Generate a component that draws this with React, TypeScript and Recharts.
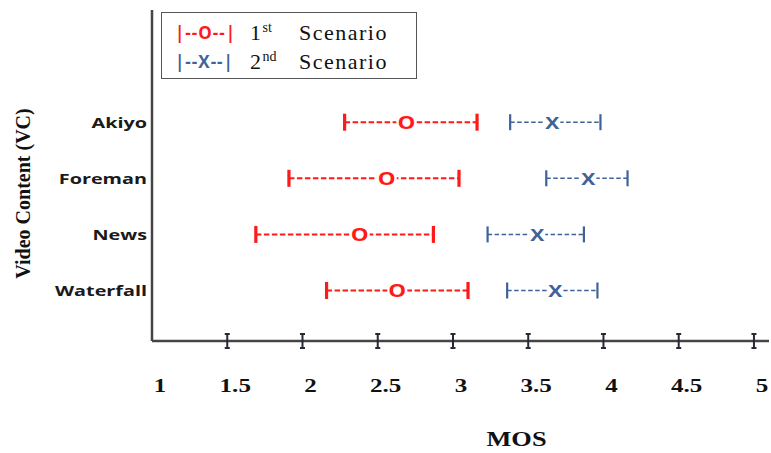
import React from 'react';
import { ScatterChart, Scatter, XAxis, YAxis } from 'recharts';

// Video contents, top to bottom
const categories = ['Akiyo', 'Foreman', 'News', 'Waterfall'];

// 1st scenario: MOS interval (low / mean / high)
const s1Low = [2.28, 1.91, 1.69, 2.16];
const s1Mean = [2.69, 2.56, 2.38, 2.63];
const s1High = [3.16, 3.04, 2.87, 3.1];

// 2nd scenario
const s2Low = [3.38, 3.62, 3.23, 3.36];
const s2Mean = [3.66, 3.9, 3.56, 3.68];
const s2High = [3.98, 4.16, 3.87, 3.96];

const xTicks = [1, 1.5, 2, 2.5, 3, 3.5, 4, 4.5, 5];

const RED = '#ff1a1a';
const BLUE = '#3f6396';
// the source picture is stretched sideways, so text is widened a bit
const STRETCH = 1.32;

const rowY = (i: number) => categories.length - i;

const s1Ends = categories.map((_, i) => [
  { x: s1Low[i], y: rowY(i) },
  { x: s1High[i], y: rowY(i) },
]);
const s2Ends = categories.map((_, i) => [
  { x: s2Low[i], y: rowY(i) },
  { x: s2High[i], y: rowY(i) },
]);
const s1Means = categories.map((_, i) => ({ x: s1Mean[i], y: rowY(i) }));
const s2Means = categories.map((_, i) => ({ x: s2Mean[i], y: rowY(i) }));

const EndBar = (color: string, w: number, h: number) => (props: any) => {
  const { cx, cy } = props;
  return <rect x={cx - w / 2} y={cy - h / 2} width={w} height={h} fill={color} />;
};

const MeanMark = (color: string, letter: string, size: number, pad: number) => (props: any) => {
  const { cx, cy } = props;
  return (
    <g>
      <rect x={cx - pad} y={cy - 8} width={pad * 2} height={16} fill="#fff" />
      <g transform={`translate(${cx} ${cy}) scale(${STRETCH} 1)`}>
        <text
          x={0}
          y={0}
          textAnchor="middle"
          dominantBaseline="central"
          fontFamily="'Open Sans', Arial, sans-serif"
          fontWeight={700}
          fontSize={size}
          fill={color}
        >
          {letter}
        </text>
      </g>
    </g>
  );
};

const XTick = (props: any) => {
  const { x, y, payload } = props;
  return (
    <g>
      {payload.value !== 1 && (
        <g stroke="#262a36" strokeWidth={2}>
          <line x1={x} y1={y - 7} x2={x} y2={y + 7} />
          <line x1={x - 2.5} y1={y - 7} x2={x + 2.5} y2={y - 7} />
          <line x1={x - 2.5} y1={y + 7} x2={x + 2.5} y2={y + 7} />
        </g>
      )}
      <g transform={`translate(${x + 8} ${y + 51}) scale(${STRETCH} 1)`}>
        <text
          x={0}
          y={0}
          textAnchor="middle"
          fontFamily="'Liberation Serif', 'Times New Roman', serif"
          fontWeight={700}
          fontSize={19}
          fill="#111"
        >
          {payload.value}
        </text>
      </g>
    </g>
  );
};

const YTick = (props: any) => {
  const { x, y, payload } = props;
  return (
    <g transform={`translate(${x - 5} ${y}) scale(${STRETCH} 1)`}>
      <text
        x={0}
        y={0}
        textAnchor="end"
        dominantBaseline="central"
        fontFamily="'Open Sans', Verdana, sans-serif"
        fontWeight={700}
        fontSize={15}
        fill="#1a1a1a"
      >
        {categories[categories.length - payload.value]}
      </text>
    </g>
  );
};

const legendRows = [
  { sym: '|--O--|', color: RED, ord: '1', sup: 'st' },
  { sym: '|--X--|', color: BLUE, ord: '2', sup: 'nd' },
];

const LegendBox = () => (
  <div
    style={{
      position: 'absolute',
      left: 161,
      top: 12,
      border: '1.5px solid #555',
      width: 256,
      height: 67,
      boxSizing: 'border-box',
      padding: '5px 0 0 13px',
      fontFamily: "'Liberation Serif', 'Times New Roman', serif",
      fontSize: 22,
      letterSpacing: 1.5,
      color: '#111',
      lineHeight: '29px',
      background: '#fff',
    }}
  >
    {legendRows.map((r) => (
      <div key={r.ord} style={{ display: 'flex', alignItems: 'center', height: 29 }}>
        <span
          style={{
            color: r.color,
            fontFamily: "'Open Sans', Arial, sans-serif",
            fontWeight: 700,
            fontSize: 17,
            letterSpacing: 1,
            width: 75,
          }}
        >
          {r.sym}
        </span>
        <span style={{ width: 49 }}>
          {r.ord}
          <sup style={{ fontSize: 14, lineHeight: 0, letterSpacing: 0 }}>{r.sup}</sup>
        </span>
        <span>Scenario</span>
      </div>
    ))}
  </div>
);

export default function App() {
  return (
    <div style={{ position: 'absolute', left: 0, top: 0, width: 771, height: 453, background: '#fff' }}>
      <ScatterChart width={771} height={453} margin={{ top: 10, right: 2, left: 0, bottom: 0 }}>
        <XAxis
          type="number"
          dataKey="x"
          domain={[1, 5.1]}
          ticks={xTicks}
          interval={0}
          height={112}
          tickSize={0}
          tickMargin={0}
          tickLine={false}
          axisLine={{ stroke: '#454545', strokeWidth: 2.5 }}
          tick={<XTick />}
          label={{
            content: (p: any) => {
              const cx = p.viewBox.x + p.viewBox.width / 2 + 56;
              const cy = p.viewBox.y + 105;
              return (
                <g transform={`translate(${cx} ${cy}) scale(${STRETCH} 1)`}>
                  <text
                    x={0}
                    y={0}
                    textAnchor="middle"
                    fontFamily="'Liberation Serif', 'Times New Roman', serif"
                    fontWeight={700}
                    fontSize={20}
                    fill="#111"
                  >
                    MOS
                  </text>
                </g>
              );
            },
          }}
        />
        <YAxis
          type="number"
          dataKey="y"
          domain={[0.1, 6]}
          ticks={[1, 2, 3, 4]}
          width={152}
          tickSize={0}
          tickMargin={0}
          tickLine={false}
          axisLine={{ stroke: '#454545', strokeWidth: 2.5 }}
          tick={<YTick />}
          label={{
            content: (p: any) => {
              const cx = p.viewBox.x + 23;
              const cy = p.viewBox.y + p.viewBox.height / 2 + 18;
              return (
                <text
                  x={cx}
                  y={cy}
                  transform={`rotate(-90 ${cx} ${cy})`}
                  textAnchor="middle"
                  dominantBaseline="central"
                  fontFamily="'Liberation Serif', 'Times New Roman', serif"
                  fontWeight={700}
                  fontSize={20}
                  fill="#111"
                >
                  Video Content (VC)
                </text>
              );
            },
          }}
        />
        {s1Ends.map((d, i) => (
          <Scatter
            key={`s1-${i}`}
            name={`s1-${i}`}
            data={d}
            line={{ stroke: RED, strokeWidth: 2, strokeDasharray: '5.5 2.5' }}
            shape={EndBar(RED, 3.2, 17)}
            isAnimationActive={false}
          />
        ))}
        {s2Ends.map((d, i) => (
          <Scatter
            key={`s2-${i}`}
            name={`s2-${i}`}
            data={d}
            line={{ stroke: BLUE, strokeWidth: 1.5, strokeDasharray: '4.5 2.5' }}
            shape={EndBar(BLUE, 2.2, 16)}
            isAnimationActive={false}
          />
        ))}
        <Scatter
          name="1st Scenario"
          data={s1Means}
          shape={MeanMark(RED, 'O', 17, 10)}
          isAnimationActive={false}
        />
        <Scatter
          name="2nd Scenario"
          data={s2Means}
          shape={MeanMark(BLUE, 'X', 16, 8)}
          isAnimationActive={false}
        />
      </ScatterChart>
      <LegendBox />
    </div>
  );
}
